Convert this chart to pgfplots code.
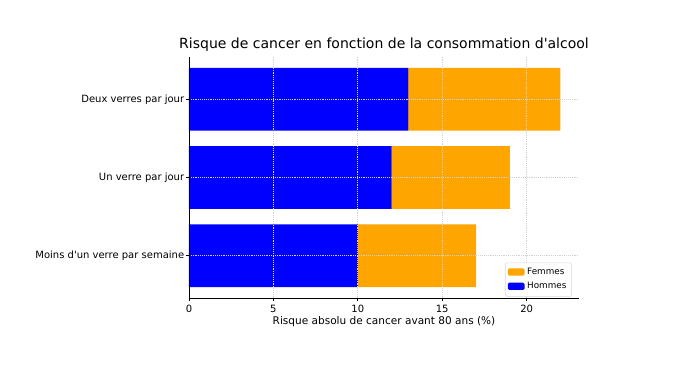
\documentclass[border=0pt]{standalone}
\usepackage{pgfplots}
\pgfplotsset{compat=1.18}
\usepackage{fontspec}
\setmainfont{DejaVu Sans}
\definecolor{mplorange}{RGB}{255,165,0}
\definecolor{mplblue}{RGB}{0,0,255}
\begin{document}
\begin{tikzpicture}
\useasboundingbox (-141.75pt,-60pt) rectangle (382.5pt,223.5pt);
\begin{axis}[
  at={(0pt,0pt)}, anchor=south west,
  scale only axis, width=292.5pt, height=180.75pt,
  xbar stacked, bar width=0.8,
  xmin=0, xmax=23.1, ymin=-0.54, ymax=2.54,
  ytick={0,1,2},
  yticklabels={Moins d\textquotesingle un verre par semaine, Un verre par jour, Deux verres par jour},
  xtick={0,5,10,15,20},
  axis lines*=left, axis line style={-, line width=0.6pt, black},
  tick align=outside, tick pos=left,
  major tick length=2.6pt,
  tick style={black, line width=0.6pt},
  grid=major, grid style={densely dotted, gray!35, line width=0.5pt},
  axis on top,
  /pgf/number format/assume math mode=true,
  tick label style={font=\fontsize{7.5}{9}\selectfont},
  yticklabel style={xshift=2.5pt},
  xticklabel style={yshift=1pt},
  xlabel={Risque absolu de cancer avant 80 ans (\%)},
  xlabel style={font=\fontsize{7.9}{9}\selectfont, yshift=3.5pt},
  title={Risque de cancer en fonction de la consommation d\textquotesingle alcool},
  title style={font=\fontsize{10.5}{12}\selectfont, yshift=-5pt},
  legend style={at={(0.982,0.006)}, anchor=south east, font=\fontsize{6.6}{7.5}\selectfont,
    draw=gray!30, rounded corners=1pt, inner sep=2pt, row sep=0.5pt},
  legend cell align=left,
  reverse legend,
  legend image code/.code={\fill[#1] (0pt,-2.4pt) rectangle (12.5pt,3pt);},
]
\addplot[fill=mplblue, draw=none] coordinates {(10,0) (12,1) (13,2)};
\addlegendentry{Hommes}
\addplot[fill=mplorange, draw=none] coordinates {(7,0) (7,1) (9,2)};
\addlegendentry{Femmes}
\end{axis}
\end{tikzpicture}
\end{document}
